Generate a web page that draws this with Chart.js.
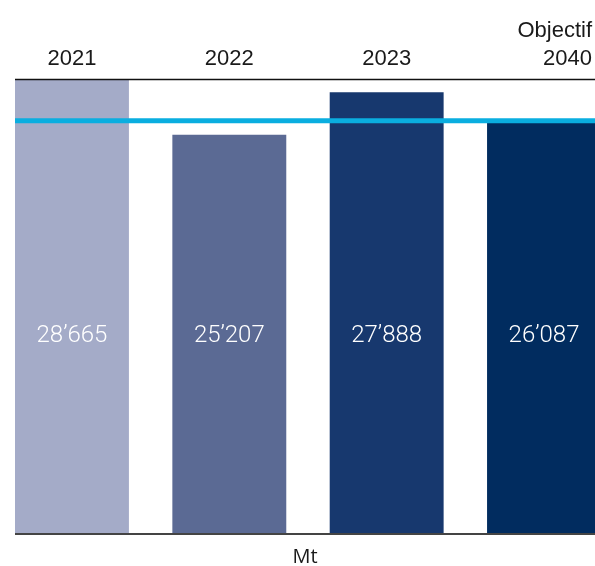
<!DOCTYPE html>
<html>
<head>
<meta charset="utf-8">
<script src="https://cdn.jsdelivr.net/npm/chart.js@4/dist/chart.umd.min.js"></script>
<style>
  html, body { margin: 0; padding: 0; background: #fff; overflow: hidden; }
  #wrap { width: 595px; height: 566px; }
</style>
</head>
<body>
<div id="wrap"><canvas id="myChart" width="595" height="566"></canvas></div>
<script>
// Data
var categories = [["2021"], ["2022"], ["2023"], ["Objectif", "2040"]];
var valeurs = [28665, 25207, 27888, 26087];
var etiquettes = ["28\u2019665", "25\u2019207", "27\u2019888", "26\u2019087"];
var objectif = [26087];
var couleurs = ["#a4abc8", "#5b6a94", "#17386e", "#012c5f"];

// lines, target line, labels
var decorPlugin = {
    id: "decor",
    afterDatasetsDraw: function (chart) {
        var ctx = chart.ctx;
        var area = chart.chartArea;
        var x = chart.scales.x;
        var y = chart.scales.y;

        ctx.save();
        // target line
        var yObj = y.getPixelForValue(objectif[0]);
        ctx.strokeStyle = "#0aaee0";
        ctx.lineWidth = 5;
        ctx.beginPath();
        ctx.moveTo(area.left, yObj);
        ctx.lineTo(area.right, yObj);
        ctx.stroke();

        // top and bottom rules
        ctx.strokeStyle = "#111";
        ctx.lineWidth = 1.5;
        ctx.beginPath();
        ctx.moveTo(area.left, area.top - 0.5);
        ctx.lineTo(area.right, area.top - 0.5);
        ctx.stroke();
        ctx.strokeStyle = "#444";
        ctx.lineWidth = 2;
        ctx.beginPath();
        ctx.moveTo(area.left, area.bottom + 1);
        ctx.lineTo(area.right, area.bottom + 1);
        ctx.stroke();

        // value labels
        ctx.fillStyle = "#fff";
        ctx.font = "300 24px Roboto";
        ctx.textAlign = "center";
        ctx.textBaseline = "middle";
        etiquettes.forEach(function (t, i) {
            ctx.fillText(t, x.getPixelForValue(i), area.bottom - 197);
        });

        // category labels (top)
        ctx.fillStyle = "#1a1a1a";
        ctx.font = "22px 'Liberation Sans'";
        ctx.textBaseline = "alphabetic";
        categories.forEach(function (lines, i) {
            var last = i === categories.length - 1;
            ctx.textAlign = last ? "right" : "center";
            var px = last ? area.right - 3 : x.getPixelForValue(i);
            for (var k = 0; k < lines.length; k++) {
                var by = 65 - (lines.length - 1 - k) * 28;
                ctx.fillText(lines[k], px, by);
            }
        });

        // unit
        ctx.fillStyle = "#1a1a1a";
        ctx.font = "20px 'Open Sans'";
        ctx.textAlign = "center";
        ctx.fillText("Mt", (area.left + area.right) / 2, 563);
        ctx.restore();
    }
};

var chart = new Chart("myChart", {
    type: "bar",
    data: {
        datasets: [{
            data: valeurs.map(function (v, i) { return { x: i, y: v }; }),
            backgroundColor: couleurs,
            borderWidth: 0,
            barPercentage: 0.724,
            categoryPercentage: 1,
            clip: 0
        }]
    },
    options: {
        responsive: false,
        devicePixelRatio: 1,
        animation: false,
        layout: { padding: { left: 15, right: 0, top: 80, bottom: 33 } },
        plugins: { legend: { display: false }, tooltip: { enabled: false } },
        scales: {
            x: {
                type: "linear", min: -0.362, max: 3.324, offset: false, display: false,
                afterBuildTicks: function (scale) {
                    scale.ticks = valeurs.map(function (v, i) { return { value: i }; });
                }
            },
            y: { min: 0, max: 28665, display: false }
        }
    },
    plugins: [decorPlugin]
});
</script>
</body>
</html>
